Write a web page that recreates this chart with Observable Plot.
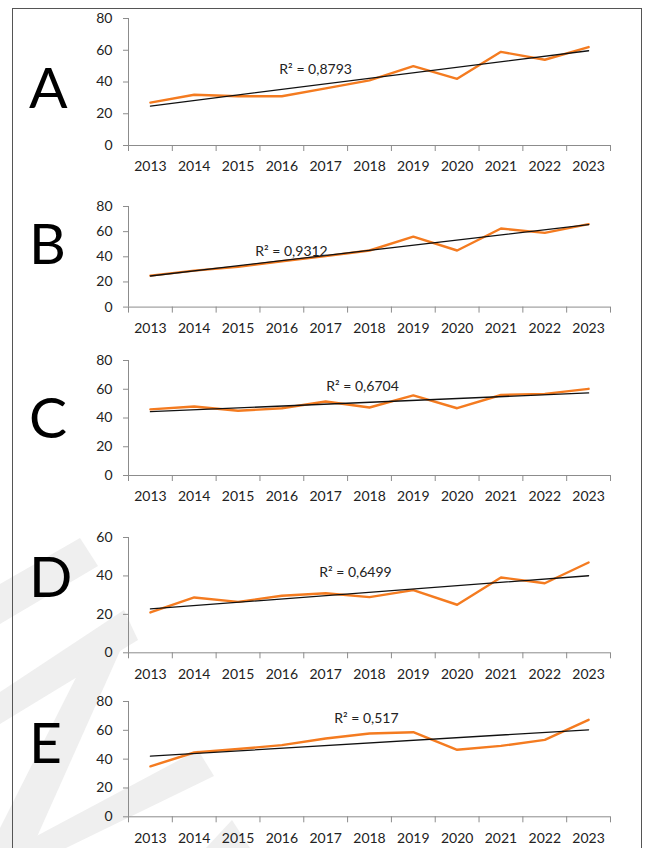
<!DOCTYPE html>
<html>
<head>
<meta charset="utf-8">
<script src="https://cdn.jsdelivr.net/npm/d3@7"></script>
<script src="https://cdn.jsdelivr.net/npm/@observablehq/plot@0.6"></script>
<style>
  html, body { margin: 0; padding: 0; background: #fff; }
  #page { position: relative; width: 650px; height: 848px; overflow: hidden; background: #fff; font-family: Lato, "Noto Sans", sans-serif; }
  #frame { position: absolute; left: 12px; top: 8px; width: 630px; height: 900px; border: 1px solid #555; box-sizing: border-box; }
  .panel { position: absolute; left: 0; }
  .panel svg { overflow: visible; background: transparent !important; }
  #deco { position: absolute; left: 0; top: 0; }
</style>
</head>
<body>
<div id="page">
  <svg id="deco" width="650" height="848">
    <g fill="#efefef">
      <polygon points="80,538 98,566 0,624 0,584"/>
      <polygon points="124,610 138,640 0,724 0,692"/>
      <polygon points="100,630 124,642 32,848 0,848 0,828"/>
      <polygon points="198,750 214,776 66,848 14,848"/>
      <polygon points="232,820 250,848 206,848"/>
    </g>
  </svg>
  <div id="frame"></div>
  <svg id="letters" width="650" height="848" style="position:absolute;left:0;top:0;overflow:visible"></svg>
</div>
<script>
// ---- Data ----
const years = [2013, 2014, 2015, 2016, 2017, 2018, 2019, 2020, 2021, 2022, 2023];
const panelNames = ["A", "B", "C", "D", "E"];
const seriesA = [27, 32, 31, 31, 36, 41, 50, 42, 59, 54, 62];
const seriesB = [25, 29, 32, 36.5, 40.5, 45, 56, 45, 62.5, 59, 66];
const seriesC = [46, 48, 45, 46.8, 51.5, 47.3, 55.7, 46.8, 56, 56.8, 60.3];
const seriesD = [21, 28.8, 26.5, 29.7, 31, 29, 32.6, 25, 39.2, 36.2, 47];
const seriesE = [35, 44.6, 47, 49.7, 54.3, 57.8, 58.7, 46.5, 49.2, 53.4, 67.3];
const r2Labels = ["R² = 0,8793", "R² = 0,9312", "R² = 0,6704", "R² = 0,6499", "R² = 0,517"];
const r2LabelYear = [2016.77, 2016.22, 2017.84, 2017.68, 2017.93];
const r2LabelValue = [47.9, 44, 62.1, 41.8, 68.5];
const yTicks80 = [0, 20, 40, 60, 80];
const yTicks60 = [0, 20, 40, 60];
const yTicksByPanel = [yTicks80, yTicks80, yTicks80, yTicks60, yTicks80];
const allSeries = [seriesA, seriesB, seriesC, seriesD, seriesE];

// ---- Layout (pixels) ----
const layout = [
  {top: 8,     plotH: 127,   letterBase: 107.5},
  {top: 195.7, plotH: 100.6, letterBase: 263.5},
  {top: 350,   plotH: 115,   letterBase: 437.5},
  {top: 526.7, plotH: 115.3, letterBase: 596.5},
  {top: 690.7, plotH: 115.3, letterBase: 762.5}
];
const marginTop = 10, marginBottom = 40, marginLeft = 128, marginRight = 40;
const axisGray = "#8c8c8c";
const orange = "#F47B20";

const page = document.getElementById("page");
const letters = d3.select("#letters");
const xDomain = [years[0] - 0.5, years[years.length - 1] + 0.5];
const bounds = [...years.map(y => y - 0.5), years[years.length - 1] + 0.5];

panelNames.forEach((name, i) => {
  const data = years.map((year, j) => ({year, value: allSeries[i][j]}));
  const ticks = yTicksByPanel[i];
  const L = layout[i];
  const chart = Plot.plot({
    width: 650,
    height: marginTop + L.plotH + marginBottom,
    marginTop, marginBottom, marginLeft, marginRight,
    style: {fontFamily: "Lato, 'Noto Sans', sans-serif", fontSize: "14px", color: "#222", background: "transparent", overflow: "visible"},
    x: {type: "linear", domain: xDomain, label: null},
    y: {domain: [0, ticks[ticks.length - 1]], label: null},
    marks: [
      Plot.ruleX([xDomain[0]], {stroke: axisGray, strokeWidth: 1}),
      Plot.ruleY([0], {stroke: axisGray, strokeWidth: 1}),
      Plot.axisY({ticks, label: null, tickSize: 5, tickPadding: 11, fontSize: 14, stroke: axisGray, fill: "#222", tickFormat: d => `${d}`}),
      Plot.axisX({ticks: bounds, label: null, tickSize: 6, stroke: axisGray, tickFormat: () => ""}),
      Plot.axisX({ticks: years, label: null, tickSize: 0, tickPadding: 16, fontSize: 14, fill: "#222", tickFormat: d => `${d}`}),
      Plot.lineY(data, {x: "year", y: "value", stroke: orange, strokeWidth: 2.4}),
      Plot.linearRegressionY(data, {x: "year", y: "value", stroke: "#111", strokeWidth: 1.3, ci: 0}),
      Plot.text([r2Labels[i]], {x: () => r2LabelYear[i], y: () => r2LabelValue[i], text: d => d, fontSize: 14, fill: "#222"})
    ]
  });
  const div = document.createElement("div");
  div.className = "panel";
  div.style.top = L.top + "px";
  div.appendChild(chart);
  page.appendChild(div);

  letters.append("text")
    .attr("x", 29).attr("y", L.letterBase)
    .attr("font-family", "Lato, 'Noto Sans', sans-serif")
    .attr("font-size", 57)
    .attr("fill", "#000")
    .text(name);
});
</script>
</body>
</html>
